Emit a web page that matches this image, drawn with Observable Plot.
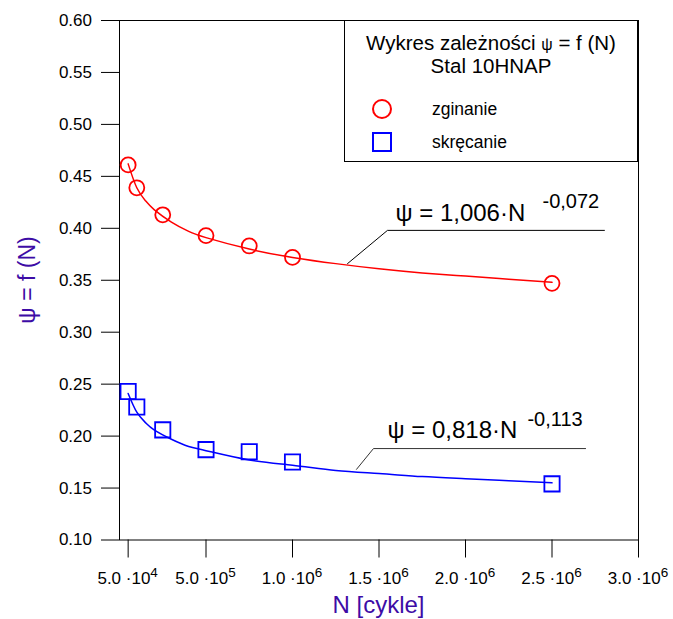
<!DOCTYPE html>
<html>
<head>
<meta charset="utf-8">
<script src="https://cdn.jsdelivr.net/npm/d3@7"></script>
<script src="https://cdn.jsdelivr.net/npm/@observablehq/plot@0.6"></script>
<style>
  html, body { margin: 0; padding: 0; background: #fff; }
  svg { display: block; }
</style>
</head>
<body>
<div id="chart"></div>
<script>
// ---- data ----
const N_points = [5e4, 1e5, 2.5e5, 5e5, 7.5e5, 1e6, 2.5e6];
const psi_zginanie = [0.461, 0.439, 0.413, 0.393, 0.383, 0.372, 0.347];
const psi_skrecanie = [0.243, 0.228, 0.206, 0.187, 0.185, 0.175, 0.154];

// fitted curves
const N_fit = [5e4, 1e5, 1.5e5, 2e5, 3e5, 4e5, 5e5, 7.5e5, 1e6, 1.25e6, 1.5e6, 1.75e6, 2e6, 2.25e6, 2.5e6];
const fit_zginanie = [0.462, 0.439, 0.4265, 0.418, 0.406, 0.397, 0.391, 0.380, 0.372, 0.366, 0.361, 0.357, 0.354, 0.351, 0.348];
const fit_skrecanie = [0.241, 0.223, 0.213, 0.206, 0.197, 0.190, 0.186, 0.177, 0.172, 0.167, 0.164, 0.161, 0.159, 0.157, 0.155];

const yTicks = [0.10, 0.15, 0.20, 0.25, 0.30, 0.35, 0.40, 0.45, 0.50, 0.55, 0.60];
const xTicks = [5e4, 5e5, 1e6, 1.5e6, 2e6, 2.5e6, 3e6];
const xTickMantissa = ["5.0", "5.0", "1.0", "1.5", "2.0", "2.5", "3.0"];
const xTickExponent = ["4", "5", "6", "6", "6", "6", "6"];

const eqMain = ["ψ = 1,006·N", "ψ = 0,818·N"];
const eqExp = ["-0,072", "-0,113"];

const legendTitle = "Wykres zależności";
const legendSub = "Stal 10HNAP";
const seriesNames = ["zginanie", "skręcanie"];
const xLabel = "N [cykle]";
const yLabel = "ψ = f (N)";

// ---- tables ----
const pts = N_points.map((n, i) => ({n, zg: psi_zginanie[i], sk: psi_skrecanie[i]}));
const fit = N_fit.map((n, i) => ({n, zg: fit_zginanie[i], sk: fit_skrecanie[i]}));

// annotation leader lines (data units)
const leaderRed = [{n: 1.318e6, p: 0.366}, {n: 1.549e6, p: 0.398}, {n: 2.803e6, p: 0.398}];
const leaderBlue = [{n: 1.370e6, p: 0.168}, {n: 1.468e6, p: 0.188}, {n: 2.694e6, p: 0.188}];
const eqPos = [
  {n: 1.595e6, p: 0.4075, en: 2.445e6, ep: 0.4195},
  {n: 1.549e6, p: 0.1985, en: 2.358e6, ep: 0.2095}
];

const RED = "#ff0000", BLUE = "#0000ff", INDIGO = "#3d0ca6";
const FONT = "Arial, 'Liberation Sans', sans-serif";

const plot = Plot.plot({
  width: 673,
  height: 619,
  marginLeft: 119,
  marginRight: 35,
  marginTop: 20,
  marginBottom: 79.5,
  style: {fontFamily: FONT, fontSize: "17px"},
  x: {domain: [0, 3e6]},
  y: {domain: [0.1, 0.6]},
  marks: [
    Plot.axisY({ticks: yTicks, tickSize: 18, tickFormat: () => "", label: null}),
    Plot.axisX({ticks: xTicks, tickSize: 18, tickFormat: () => "", label: null}),
    Plot.frame({stroke: "#000", strokeWidth: 1}),
    Plot.line(fit, {x: "n", y: "zg", stroke: RED, strokeWidth: 1.5, curve: "natural"}),
    Plot.line(fit, {x: "n", y: "sk", stroke: BLUE, strokeWidth: 1.5, curve: "natural"}),
    Plot.dot(pts, {x: "n", y: "zg", r: 7.5, stroke: RED, strokeWidth: 1.8, fill: "none"}),
    Plot.dot(pts, {x: "n", y: "sk", r: 8.6, symbol: "square", stroke: BLUE, strokeWidth: 1.8, fill: "none"}),
    Plot.line(leaderRed, {x: "n", y: "p", stroke: "#000", strokeWidth: 1}),
    Plot.line(leaderBlue, {x: "n", y: "p", stroke: "#333", strokeWidth: 1}),
    Plot.text(eqPos, {x: "n", y: "p", text: (d, i) => eqMain[i], fontSize: 24, textAnchor: "start", lineAnchor: "bottom", fill: "#000"}),
    Plot.text(eqPos, {x: "en", y: "ep", text: (d, i) => eqExp[i], fontSize: 20, textAnchor: "start", lineAnchor: "bottom", fill: "#000"})
  ]
});

const svg = d3.select(plot);
const xs = plot.scale("x"), ys = plot.scale("y");

// tick labels placed through Plot's scales
const tl = svg.append("g").style("font-family", FONT).attr("fill", "#000");
yTicks.forEach((v) => {
  tl.append("text")
    .attr("x", 92).attr("y", ys.apply(v)).attr("dy", "0.35em")
    .attr("text-anchor", "end").style("font-size", "17px")
    .text(d3.format(".2f")(v));
});
xTicks.forEach((v, i) => {
  const t = tl.append("text")
    .attr("x", xs.apply(v)).attr("y", 584)
    .attr("text-anchor", "middle").style("font-size", "17px");
  t.append("tspan").text(xTickMantissa[i] + " ·10");
  t.append("tspan").attr("dy", "-0.55em").style("font-size", "13.5px").text(xTickExponent[i]);
});

// axis labels
svg.append("text")
  .attr("x", 378.5).attr("y", 613)
  .attr("text-anchor", "middle")
  .style("font-size", "24px").attr("fill", INDIGO).style("font-family", FONT)
  .text(xLabel);
svg.append("text")
  .attr("transform", "translate(35,280) rotate(-90)")
  .attr("text-anchor", "middle")
  .style("font-size", "23px").attr("fill", INDIGO).style("font-family", FONT)
  .text(yLabel);

// legend box
const lg = svg.append("g").style("font-family", FONT);
lg.append("rect").attr("x", 344.5).attr("y", 20.5).attr("width", 293).attr("height", 141)
  .attr("fill", "#fff").attr("stroke", "#000").attr("stroke-width", 1);
const tt = lg.append("text").attr("x", 491).attr("y", 50).attr("text-anchor", "middle").style("font-size", "20.5px");
tt.append("tspan").text(legendTitle + " ");
tt.append("tspan").style("font-size", "16px").text("ψ");
tt.append("tspan").text(" = f (N)");
lg.append("text").attr("x", 491).attr("y", 73).attr("text-anchor", "middle").style("font-size", "20.5px").text(legendSub);
lg.append("circle").attr("cx", 382).attr("cy", 109).attr("r", 9).attr("fill", "none").attr("stroke", RED).attr("stroke-width", 2);
lg.append("rect").attr("x", 373).attr("y", 133).attr("width", 18).attr("height", 18).attr("fill", "none").attr("stroke", BLUE).attr("stroke-width", 2);
lg.append("text").attr("x", 432).attr("y", 109).attr("dy", "0.35em").attr("text-anchor", "start").style("font-size", "17.5px").text(seriesNames[0]);
lg.append("text").attr("x", 432).attr("y", 142).attr("dy", "0.35em").attr("text-anchor", "start").style("font-size", "17.5px").text(seriesNames[1]);

document.getElementById("chart").appendChild(plot);
</script>
</body>
</html>
